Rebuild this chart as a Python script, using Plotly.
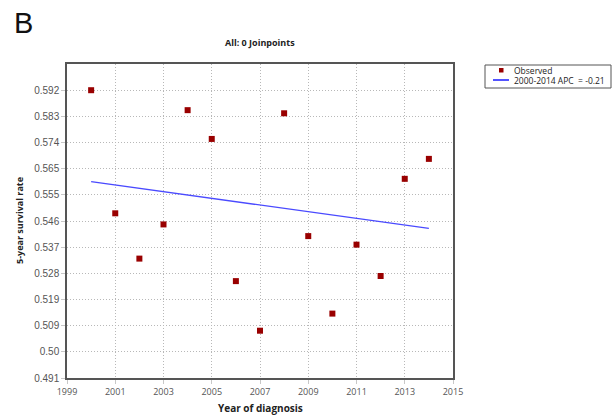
import plotly.graph_objects as go

years = [2000, 2001, 2002, 2003, 2004, 2005, 2006, 2007, 2008, 2009, 2010, 2011, 2012, 2013, 2014]
observed = [0.5920, 0.5488, 0.5329, 0.5449, 0.5850, 0.5749, 0.5250, 0.5076, 0.5839, 0.5408,
            0.5136, 0.5378, 0.5268, 0.5609, 0.5679]
fit_years = [2000, 2014]
fit_values = [0.5599, 0.5435]

y_tickvals = [0.491, 0.50018, 0.50936, 0.51855, 0.52773, 0.53691, 0.54609, 0.55527, 0.56445,
              0.57364, 0.58282, 0.5920]
y_ticktext = ["0.491", "0.50", "0.509", "0.519", "0.528", "0.537", "0.546", "0.555", "0.565",
              "0.574", "0.583", "0.592"]
x_tickvals = [1999, 2001, 2003, 2005, 2007, 2009, 2011, 2013, 2015]

legend_labels = ["Observed", "2000-2014 APC  = -0.21"]
MARKER_COLOR = "#990000"
LINE_COLOR = "#4a4aff"

W, H = 616, 416
ML, MR, MT, MB = 67, 163, 64, 38
PW, PH = W - ML - MR, H - MT - MB


def px(x):
    return (x - ML) / PW


def py(y):
    return (H - MB - y) / PH


fig = go.Figure()
fig.add_trace(go.Scatter(
    x=years, y=observed, mode="markers", name=legend_labels[0],
    marker=dict(symbol="square", size=6, color=MARKER_COLOR, line=dict(width=0)),
))
fig.add_trace(go.Scatter(
    x=fit_years, y=fit_values, mode="lines", name=legend_labels[1],
    line=dict(color=LINE_COLOR, width=1.3),
))

grid = dict(showgrid=True, gridcolor="#b8b8b8", griddash="1px,2px", gridwidth=1,
            showline=True, linecolor="#555555", linewidth=1.5, mirror=True,
            zeroline=False, ticks="outside", ticklen=4, tickcolor="#c8c8c8",
            automargin=False)

fig.update_layout(
    width=W, height=H,
    margin=dict(l=ML, r=MR, t=MT, b=MB),
    paper_bgcolor="white", plot_bgcolor="white",
    showlegend=False,
    xaxis=dict(range=[1999, 2015], tickvals=x_tickvals,
               tickfont=dict(family="Open Sans, Liberation Sans", size=9, color="#555555"),
               **grid),
    yaxis=dict(range=[0.491, 0.6012], tickvals=y_tickvals, ticktext=y_ticktext,
               tickfont=dict(family="Liberation Sans, Arial", size=10, color="#555555"),
               **grid),
)

txt_font = dict(family="Open Sans, Liberation Sans", size=9, color="#222222")
# chart title
fig.add_annotation(text="<b>All: 0 Joinpoints</b>", x=0.5, y=py(42),
                   xref="paper", yref="paper", showarrow=False, yanchor="middle", font=txt_font)
# axis titles
fig.add_annotation(text="<b>Year of diagnosis</b>", x=0.5, y=py(408),
                   xref="paper", yref="paper", showarrow=False, yanchor="middle",
                   font=dict(family="Open Sans, Liberation Sans", size=10, color="#222222"))
fig.add_annotation(text="<b>5-year survival rate</b>", x=px(19), y=py(221), textangle=-90,
                   xref="paper", yref="paper", showarrow=False, xanchor="center", yanchor="middle",
                   font=txt_font)
# panel label
fig.add_annotation(text="B", x=px(12), y=py(23),
                   xref="paper", yref="paper", showarrow=False, xanchor="left", yanchor="middle",
                   font=dict(family="Liberation Sans, Arial", size=29, color="#111111"))

# compact legend box (drawn to match the original's tight layout)
fig.add_shape(type="rect", xref="paper", yref="paper",
              x0=px(485), x1=px(611), y0=py(88), y1=py(65),
              line=dict(color="#555555", width=1), fillcolor="white")
fig.add_shape(type="rect", xref="paper", yref="paper",
              x0=px(499), x1=px(503.5), y0=py(72.5), y1=py(68),
              line=dict(width=0), fillcolor=MARKER_COLOR)
fig.add_shape(type="line", xref="paper", yref="paper",
              x0=px(493), x1=px(509), y0=py(80), y1=py(80),
              line=dict(color="#1a1aff", width=1.5))
leg_font = dict(family="Open Sans, Liberation Sans", size=8.5, color="#222222")
fig.add_annotation(text=legend_labels[0], x=px(512), y=py(70), xref="paper", yref="paper",
                   showarrow=False, xanchor="left", yanchor="middle", font=leg_font)
fig.add_annotation(text=legend_labels[1], x=px(512), y=py(80.5), xref="paper", yref="paper",
                   showarrow=False, xanchor="left", yanchor="middle", font=leg_font)

fig.write_html("out.html")
